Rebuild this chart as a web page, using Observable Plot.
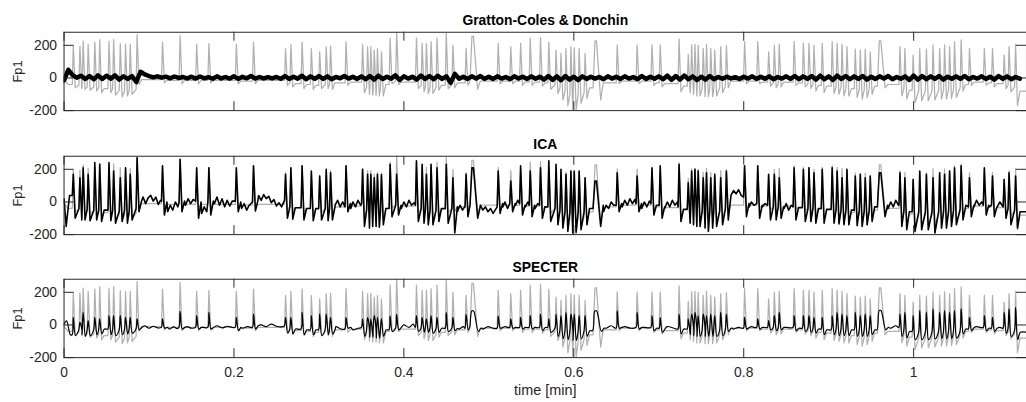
<!DOCTYPE html>
<html>
<head>
<meta charset="utf-8">
<script src="https://cdn.jsdelivr.net/npm/d3@7"></script>
<script src="https://cdn.jsdelivr.net/npm/@observablehq/plot@0.6"></script>
<style>
  html, body { margin: 0; padding: 0; background: #fff; width: 1026px; height: 402px; overflow: hidden; }
  #chart svg { display: block; }
</style>
</head>
<body>
<div id="chart"></div>
<script>
// ---- axis ticks ----
const xTicks = [0, 0.2, 0.4, 0.6, 0.8, 1];
const xTickLabels = ["0", "0.2", "0.4", "0.6", "0.8", "1"];
const yTicks = [-200, 0, 200];
const yTickLabels = ["-200", "0", "200"];
const panelTitles = ["Gratton-Coles & Donchin", "ICA", "SPECTER"];
const yLabel = "Fp1";
const xLabel = "time [min]";

// ---- blink events (minutes) ----
const blinkT = [
  0.0109, 0.0187, 0.0225, 0.0284, 0.0362, 0.0420, 0.0529, 0.0584, 0.0662, 0.0724,
  0.0779, 0.0860, 0.1159, 0.1366, 0.1561, 0.1705, 0.2028, 0.2230, 0.2607, 0.2670,
  0.2802, 0.2911, 0.3009, 0.3086, 0.3137, 0.3319, 0.3514, 0.3573, 0.3611, 0.3651,
  0.3689, 0.3736, 0.3838, 0.3915, 0.4148, 0.4215, 0.4265, 0.4320, 0.4390, 0.4499,
  0.4577, 0.4732, 0.4810, 0.5110, 0.5258, 0.5374, 0.5487, 0.5608, 0.5706, 0.5791,
  0.5849, 0.5908, 0.5966, 0.6005, 0.6063, 0.6133, 0.6258, 0.6511, 0.6745, 0.6920,
  0.7017, 0.7239, 0.7347, 0.7387, 0.7426, 0.7464, 0.7523, 0.7562, 0.7612, 0.7659,
  0.7729, 0.7796, 0.8010, 0.8165, 0.8293, 0.8360, 0.8418, 0.8593, 0.8702, 0.8768,
  0.8827, 0.8924, 0.9041, 0.9099, 0.9157, 0.9215, 0.9313, 0.9372, 0.9430, 0.9489,
  0.9605, 0.9839, 0.9897, 0.9994, 1.0072, 1.0150, 1.0228, 1.0306, 1.0364, 1.0423,
  1.0481, 1.0559, 1.0657, 1.0832, 1.0928, 1.1065, 1.1123, 1.1200];
const broadBlinkT = [0.4810, 0.6258, 0.9605];

// ---- raw Fp1 (grey) ----
const rawLeadT = [0, 0.005];
const rawLeadV = [-10, -40];
const rawPeak = [
  200, 195, 225, 205, 220, 235, 225, 235, 210, 205,
  205, 265, 220, 260, 205, 210, 205, 220, 180, 205,
  220, 180, 160, 190, 195, 223, 206, 192, 192, 171,
  180, 160, 244, 290, 244, 212, 212, 223, 244, 275,
  200, 181, 254, 212, 192, 212, 244, 248, 220, 171,
  150, 181, 190, 185, 181, 150, 227, 202, 202, 202,
  202, 240, 144, 202, 206, 200, 181, 206, 181, 171,
  192, 198, 223, 223, 160, 200, 206, 223, 212, 212,
  200, 212, 223, 212, 206, 192, 177, 171, 177, 160,
  227, 192, 181, 140, 181, 177, 202, 181, 202, 192,
  223, 233, 181, 181, 181, 140, 192, 206];
const rawTrough = [
  -60, -65, -70, -75, -80, -90, -90, -105, -115, -110,
  -100, -40, -30, -35, -35, -30, -35, -35, -45, -55,
  -65, -70, -65, -65, -70, -45, -90, -100, -105, -105,
  -110, -110, -35, -40, -65, -85, -95, -95, -75, -65,
  -60, -45, -70, -35, -35, -45, -45, -50, -70, -95,
  -135, -170, -195, -195, -155, -125, -135, -35, -35, -45,
  -55, -85, -90, -100, -110, -110, -115, -115, -115, -110,
  -90, -60, -35, -35, -50, -60, -55, -45, -55, -65,
  -80, -90, -95, -100, -110, -110, -120, -130, -120, -100,
  -60, -110, -130, -150, -140, -140, -135, -130, -130, -125,
  -120, -80, -45, -45, -55, -65, -85, -170];
const rawBase = [
  -45, -50, -55, -55, -60, -65, -65, -75, -80, -75,
  -70, -10, -15, -15, -15, -15, -20, -15, -30, -35,
  -40, -45, -40, -40, -30, -25, -55, -60, -65, -65,
  -70, -40, -20, -25, -45, -55, -60, -60, -45, -40,
  -30, -20, -20, -20, -20, -25, -25, -30, -40, -60,
  -80, -100, -110, -100, -90, -60, -30, -20, -20, -30,
  -35, -50, -55, -60, -65, -65, -65, -65, -65, -60,
  -50, -20, -20, -25, -30, -35, -25, -30, -35, -40,
  -45, -50, -55, -60, -65, -65, -70, -75, -70, -50,
  -40, -65, -75, -80, -80, -80, -75, -75, -70, -70,
  -60, -40, -25, -30, -35, -45, -55, -80];

// ---- Gratton-Coles & Donchin corrected (black), sampled every 0.005 min ----
const gcStep = 0.005;
const gcV = [
  -15, 50, 18, 2, 14, -6, 12, -8, 16, -6,
  14, -4, 16, -10, 10, -6, 12, -25, 38, 22,
  12, 4, 10, 2, 8, -2, 9, 0, 6, -3,
  8, -4, 9, -2, 5, -5, 10, -3, 6, -4,
  10, -6, 7, -2, 12, -4, 6, -3, 5, -2,
  6, -5, 12, -6, 8, -4, 14, -8, 10, -5,
  12, -6, 10, -8, 6, -2, 12, -4, 8, -6,
  10, -8, 12, -10, 14, -6, 8, -4, 16, -12,
  10, -4, 8, -10, 15, -6, 12, -8, 14, -6,
  10, -30, 25, -5, 8, -6, 10, -4, 12, -5,
  8, -6, 10, -4, 6, -8, 10, -3, 8, -6,
  10, -5, 8, -10, 12, -12, 10, -14, 12, -10,
  8, -12, 10, -6, 8, -4, 6, -8, 10, -4,
  8, -6, 10, -4, 6, -8, 12, -6, 8, -5,
  10, -8, 14, -12, 12, -10, 15, -8, 10, -12,
  8, -10, 12, -8, 6, -5, 8, -3, 5, -6,
  8, -4, 10, -6, 8, -5, 10, -8, 6, -4,
  10, -6, 12, -8, 10, -5, 12, -10, 14, -8,
  10, -12, 14, -6, 12, -8, 10, -6, 12, -10,
  8, -6, 10, -4, 12, -8, 6, -5, 10, -12,
  14, -10, 12, -8, 10, -6, 12, -10, 8, -5,
  10, -6, 12, -8, 6, -4, 10, -6, 8, -10,
  12, -6, 10, -8, 6, -4];

// ---- ICA corrected (black) ----
const icaLeadT = [0, 0.0025, 0.0065];
const icaLeadV = [20, -150, 40];
const icaPeak = [
  169, 148, 210, 169, 241, 231, 241, 190, 148, 210,
  169, 272, 221, 262, 210, 210, 210, 221, 169, 210,
  221, 190, 159, 200, 179, 221, 200, 169, 169, 148,
  169, 169, 231, 169, 252, 231, 169, 231, 210, 231,
  148, 169, 210, 190, 128, 221, 190, 210, 252, 231,
  200, 169, 190, 190, 190, 148, 128, 179, 159, 210,
  221, 231, 118, 190, 200, 190, 148, 179, 148, 169,
  148, 190, 221, 221, 169, 169, 148, 210, 200, 210,
  179, 200, 210, 190, 148, 200, 159, 169, 148, 159,
  179, 179, 148, 138, 190, 169, 148, 179, 169, 190,
  210, 221, 148, 210, 159, 138, 179, 159];
const icaTrough = [
  -100, -110, -110, -115, -110, -120, -115, -130, -120, -130,
  -110, -60, -80, -60, -100, -80, -60, -55, -100, -105,
  -110, -115, -110, -115, -110, -60, -150, -160, -150, -150,
  -155, -140, -90, -80, -120, -130, -140, -140, -120, -130,
  -190, -90, -100, -70, -60, -80, -90, -100, -120, -140,
  -160, -180, -190, -185, -170, -140, -150, -60, -60, -80,
  -100, -120, -130, -140, -150, -150, -160, -180, -160, -150,
  -140, -110, -90, -100, -110, -110, -100, -110, -120, -120,
  -130, -130, -130, -135, -140, -140, -145, -150, -140, -120,
  -90, -150, -170, -180, -170, -170, -190, -160, -160, -150,
  -140, -110, -90, -80, -90, -100, -140, -160];
const icaBase = [
  -40, -45, -45, -50, -50, -50, -50, -55, -50, -55,
  -40, 5, 0, 5, 0, 5, 0, 10, -30, -35,
  -40, -40, -40, -40, -30, -10, -50, -55, -55, -55,
  -60, -40, -20, -20, -40, -45, -50, -50, -40, -40,
  -30, -20, -30, -10, -10, -20, -20, -30, -40, -50,
  -60, -60, -70, -60, -60, -40, -20, -10, -10, -20,
  -30, -45, -50, -50, -55, -55, -55, -60, -55, -55,
  -40, 30, -10, -20, -30, -30, -30, -35, -40, -40,
  -40, -45, -45, -50, -50, -50, -50, -55, -50, -30,
  -20, -55, -60, -60, -60, -60, -60, -55, -55, -50,
  -45, -30, -20, -20, -30, -40, -50, -60];
// ICA background activity between blinks (time in min, value)
const icaWiggleT = [
  0.093, 0.096, 0.099, 0.102, 0.105, 0.108, 0.111, 0.1135,
  0.122, 0.125, 0.128, 0.131, 0.134,
  0.143, 0.146, 0.149, 0.152,
  0.162, 0.165, 0.168,
  0.177, 0.180, 0.183, 0.186, 0.189, 0.192, 0.195, 0.198,
  0.209, 0.212, 0.215, 0.218,
  0.229, 0.232, 0.235, 0.238, 0.241, 0.244, 0.247, 0.250, 0.253, 0.256,
  0.319, 0.322, 0.325, 0.328,
  0.3375, 0.340, 0.343, 0.346, 0.349,
  0.397, 0.400, 0.403, 0.406, 0.409, 0.412,
  0.463, 0.466, 0.469, 0.4715,
  0.490, 0.493, 0.496, 0.499, 0.502, 0.505, 0.508,
  0.5165, 0.519, 0.522,
  0.5315, 0.534,
  0.543, 0.546,
  0.5545, 0.5575,
  0.635, 0.638, 0.641, 0.644, 0.647,
  0.657, 0.660, 0.663, 0.666, 0.669, 0.672,
  0.680, 0.683, 0.686, 0.689,
  0.698,
  0.707, 0.710, 0.713, 0.716, 0.719, 0.722,
  0.785, 0.788, 0.791, 0.794, 0.797,
  0.8065, 0.809, 0.812,
  0.822, 0.825,
  0.8475, 0.850, 0.853, 0.856,
  0.970, 0.973, 0.976, 0.979, 0.982,
  1.0615,
  1.071, 1.074, 1.077, 1.080,
  1.089,
  1.0985, 1.1015, 1.104];
const icaWiggleV = [
  30, -10, 25, 40, 5, 30, -15, 10,
  -60, -20, -50, 0, -30,
  -20, 20, -10, 15,
  -70, -30, -60,
  -10, 30, -20, 20, -30, 10, -25, 5,
  -40, -10, -50, -20,
  40, 10, 45, 20, 35, -5, 15, -25, -5, -30,
  -20, 10, -30, 0,
  -40, 0, -30, 10, -20,
  -40, 0, -30, 10, -20, -5,
  -60, -20, -50, -30,
  -20, -50, -30, -60, -40, -70, -45,
  -30, 0, -40,
  -20, 10,
  -30, 0,
  -40, -10,
  -60, -20, -40, 0, -20,
  -30, 10, -20, 20, -10, 15,
  -40, 0, -30, 5,
  -20,
  -40, 0, -30, 10, -20, 0,
  40, 70, 50, 75, 40,
  -30, 0, -20,
  -30, -10,
  -40, -10, -50, -20,
  -40, 0, -30, 10, -20,
  -20,
  -30, 10, -20, 0,
  -30,
  -30, 0, -20];

// ---- SPECTER corrected (black) ----
const specLeadT = [0, 0.003, 0.0075];
const specLeadV = [5, 25, -60];
const specPeak = [
  47, 16, 78, 27, 47, 37, 57, 57, 57, 47,
  47, 37, 37, 84, 57, 78, 47, 67, 47, 47,
  78, 57, 67, 67, 47, 45, 37, 45, 37, 57,
  47, 37, 55, 65, 57, 47, 37, 57, 47, 75,
  47, 65, 86, 55, 37, 47, 57, 67, 37, 65,
  57, 78, 67, 67, 57, 57, 86, 86, 78, 57,
  45, 67, 37, 67, 78, 57, 67, 57, 67, 57,
  78, 67, 47, 37, 27, 57, 78, 57, 57, 57,
  47, 47, 57, 78, 67, 57, 78, 57, 67, 57,
  88, 67, 78, 57, 88, 78, 98, 78, 88, 78,
  88, 98, 47, 57, 47, 78, 98, 108];
const specTrough = [
  -65, -60, -70, -65, -60, -55, -60, -65, -60, -55,
  -50, -30, -20, -25, -25, -25, -35, -25, -50, -55,
  -60, -60, -65, -60, -55, -20, -70, -75, -75, -80,
  -80, -70, -40, -30, -40, -45, -45, -50, -45, -40,
  -35, -30, -40, -20, -20, -25, -25, -35, -45, -70,
  -85, -90, -95, -95, -85, -70, -40, -20, -25, -35,
  -45, -55, -60, -65, -70, -70, -70, -70, -70, -70,
  -65, -40, -25, -25, -30, -35, -30, -35, -40, -45,
  -50, -60, -60, -65, -65, -65, -70, -70, -70, -60,
  -30, -70, -80, -90, -90, -90, -85, -85, -85, -85,
  -80, -55, -35, -35, -40, -50, -70, -90];
const specBase = [
  -30, -30, -35, -30, -30, -25, -30, -30, -30, -25,
  -25, -15, -15, -15, -15, -15, -15, -5, -25, -25,
  -30, -30, -30, -30, -25, -15, -35, -35, -35, -40,
  -40, -30, -20, -15, -20, -20, -20, -25, -20, -20,
  -20, -15, -20, -15, -15, -15, -15, -15, -20, -35,
  -40, -45, -45, -45, -40, -35, -20, -15, -15, -20,
  -25, -25, -30, -30, -35, -35, -35, -35, -35, -35,
  -30, -20, -15, -15, -15, -20, -15, -20, -20, -25,
  -25, -30, -30, -30, -30, -30, -35, -35, -35, -30,
  -15, -35, -40, -45, -45, -45, -40, -40, -40, -40,
  -40, -25, -15, -20, -20, -25, -35, -45];
// SPECTER background activity between blinks (time in min, value)
const specWiggleT = [
  0.095, 0.100, 0.105, 0.110,
  0.124, 0.129, 0.133,
  0.145, 0.150,
  0.164,
  0.180, 0.186, 0.192, 0.198,
  0.210, 0.216,
  0.232, 0.238, 0.244, 0.250, 0.256,
  0.320, 0.326,
  0.340, 0.346,
  0.400, 0.406, 0.411,
  0.465, 0.470,
  0.493, 0.499, 0.505,
  0.519,
  0.638, 0.644,
  0.660, 0.667,
  0.683,
  0.710, 0.718,
  0.788, 0.794,
  0.809,
  0.850,
  0.973, 0.979,
  1.074,
  1.1015];
const specWiggleV = [
  -5, -20, -8, -18,
  -25, -12, -22,
  -10, -20,
  -15,
  -5, -18, -8, -15,
  -20, -10,
  0, -10, 5, -8, -12,
  -10, -25,
  -30, -20,
  0, -15, 5,
  -25, -10,
  -25, -10, -20,
  -10,
  -20, -5,
  -10, -20,
  -15,
  -10, -20,
  -25, -15,
  -10,
  -15,
  -20, -5,
  -10,
  -15];

// ---- layout constants ----
const W = 1034, ML = 64;
const pxPerMin = 856.3;
const xMax = (W - ML) / pxPerMin;
const plotW = W - ML;
const axisColor = "#262626";
const font = "'Liberation Sans', Arial, Helvetica, sans-serif";

// Build a polyline table from the blink events and the per-blink levels.
function buildTrace(leadT, leadV, peak, trough, base, durScale) {
  const pts = leadT.map((t, i) => ({t, v: leadV[i]}));
  let prev = leadV[leadV.length - 1];
  blinkT.forEach((t, i) => {
    const broad = broadBlinkT.includes(t);
    const d = (broad ? 0.009 : 0.0034) * durScale;
    pts.push({t: t - 0.35 * d, v: prev});
    if (broad) {
      pts.push({t: t - 0.1 * d, v: peak[i]});
      pts.push({t: t + 0.1 * d, v: peak[i]});
    } else {
      pts.push({t, v: peak[i]});
    }
    pts.push({t: t + 0.65 * d, v: trough[i]});
    const next = i + 1 < blinkT.length ? blinkT[i + 1] : xMax;
    if (next - t > 0.009) pts.push({t: t + 0.65 * d + 0.003, v: base[i]});
    prev = base[i];
  });
  pts.push({t: xMax, v: prev});
  return pts;
}
const pairs = (T, V) => T.map((t, i) => ({t, v: V[i]}));
const byTime = (a, b) => a.t - b.t;

const rawPts = buildTrace(rawLeadT, rawLeadV, rawPeak, rawTrough, rawBase, 1).sort(byTime);
const icaPts = buildTrace(icaLeadT, icaLeadV, icaPeak, icaTrough, icaBase, 1)
  .concat(pairs(icaWiggleT, icaWiggleV)).sort(byTime);
const specPts = buildTrace(specLeadT, specLeadV, specPeak, specTrough, specBase, 1.15)
  .concat(pairs(specWiggleT, specWiggleV)).sort(byTime);
const gcPts = gcV.map((v, i) => ({t: i * gcStep, v}));

function panel({title, black, blackWidth, curve, height, marginTop, marginBottom, showX}) {
  const plotH = height - marginTop - marginBottom;
  const marks = [
    Plot.line(rawPts, {x: "t", y: "v", stroke: "#b0b0b0", strokeWidth: 1.25, clip: true}),
    Plot.line(black, {x: "t", y: "v", stroke: "#000", strokeWidth: blackWidth, curve, clip: true, strokeLinejoin: "round"}),
    Plot.frame({stroke: axisColor, strokeWidth: 1}),
    Plot.tickY(yTicks, {y: d => d, insetRight: plotW - 10, stroke: axisColor}),
    Plot.tickY(yTicks, {y: d => d, insetLeft: plotW - 10, stroke: axisColor}),
    Plot.tickX(xTicks, {x: d => d, insetTop: plotH - 9, stroke: axisColor}),
    Plot.tickX(xTicks, {x: d => d, insetBottom: plotH - 9, stroke: axisColor}),
    Plot.axisY({ticks: yTicks, tickFormat: d => yTickLabels[yTicks.indexOf(d)], tickSize: 0, tickPadding: 7, fontSize: 14, label: null}),
    Plot.text([yLabel], {text: d => d, frameAnchor: "left", rotate: -90, dx: -46.5, fontSize: 13, textAnchor: "middle", lineAnchor: "middle", fill: axisColor}),
    Plot.text([title], {text: d => d, frameAnchor: "top", dy: -7.5, lineAnchor: "bottom", fontWeight: "bold", fontSize: 14, fill: "#000"})
  ];
  if (showX) {
    marks.push(Plot.axisX({ticks: xTicks, tickFormat: d => xTickLabels[xTicks.indexOf(d)], tickSize: 0, tickPadding: 10, fontSize: 14, label: null}));
    marks.push(Plot.text([xLabel], {text: d => d, frameAnchor: "bottom", dy: 37.5, lineAnchor: "bottom", fontSize: 14.5, fill: axisColor}));
  }
  return Plot.plot({
    width: W, height, marginLeft: ML, marginRight: 0, marginTop, marginBottom,
    x: {domain: [0, xMax], axis: null},
    y: {domain: [-200, 280], axis: null},
    style: {fontFamily: font, color: axisColor, background: "#fff", overflow: "visible"},
    marks
  });
}

const chart = document.getElementById("chart");
chart.append(panel({title: panelTitles[0], black: gcPts, blackWidth: 4.5, curve: "linear", height: 124, marginTop: 32, marginBottom: 13, showX: false}));
chart.append(panel({title: panelTitles[1], black: icaPts, blackWidth: 1.6, curve: "linear", height: 124, marginTop: 33, marginBottom: 12, showX: false}));
chart.append(panel({title: panelTitles[2], black: specPts, blackWidth: 1.2, curve: "catmull-rom", height: 154, marginTop: 33, marginBottom: 42, showX: true}));
</script>
</body>
</html>
